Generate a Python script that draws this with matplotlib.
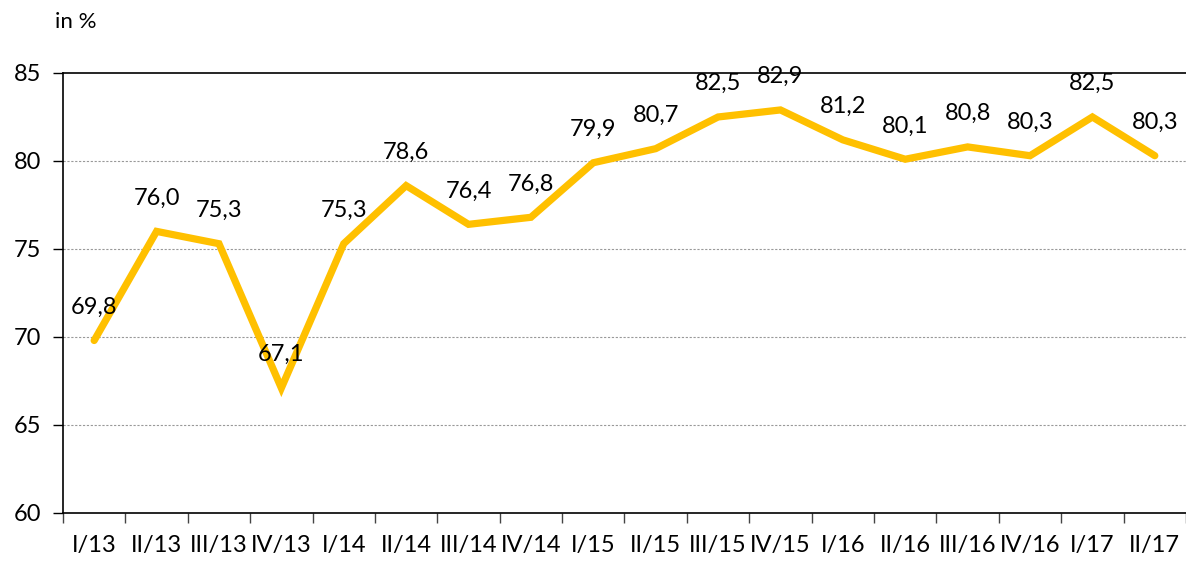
import matplotlib
matplotlib.use('Agg')
import matplotlib.pyplot as plt
import numpy as np

plt.rcParams['font.family'] = ['Lato', 'DejaVu Sans']

quarters = ['I/13', 'II/13', 'III/13', 'IV/13', 'I/14', 'II/14', 'III/14', 'IV/14',
            'I/15', 'II/15', 'III/15', 'IV/15', 'I/16', 'II/16', 'III/16', 'IV/16',
            'I/17', 'II/17']
values = [69.8, 76.0, 75.3, 67.1, 75.3, 78.6, 76.4, 76.8, 79.9, 80.7,
          82.5, 82.9, 81.2, 80.1, 80.8, 80.3, 82.5, 80.3]
yticks = [60, 65, 70, 75, 80, 85]

fig = plt.figure(figsize=(11.86, 5.61), dpi=100)
ax = fig.add_axes([0.0531, 0.0856, 0.9469, 0.7843])

x = np.arange(len(quarters))
ax.plot(x, values, color='#FFC000', lw=5.2, solid_capstyle='round', solid_joinstyle='miter', zorder=3)

for xi, v in zip(x, values):
    ax.annotate(('%.1f' % v).replace('.', ','), (xi, v), xytext=(0, 24),
                textcoords='offset points', ha='center', va='center', fontsize=17, zorder=4)

ax.set_ylim(60, 85)
ax.set_xlim(-0.5, 17.47)
ax.set_yticks(yticks)
ax.set_yticklabels([str(t) for t in yticks], fontsize=17)
for t in yticks[1:-1]:
    ax.axhline(t, color='#999999', lw=0.8, ls=(0, (2, 1.5)), zorder=1)

ax.set_xticks(x)
ax.set_xticklabels(quarters, fontsize=17)
ax.set_xticks(np.arange(len(quarters) + 1) - 0.5, minor=True)
ax.tick_params(axis='x', which='major', length=0, pad=16)
ax.tick_params(axis='x', which='minor', length=7, width=1, color='#444444', direction='out')
ax.tick_params(axis='y', length=7, width=1, pad=9)

for s in ['left', 'bottom', 'top']:
    ax.spines[s].set_color('black')
    ax.spines[s].set_linewidth(1.2)
ax.spines['right'].set_visible(False)

fig.text(0.046, 0.96, 'in %', fontsize=16, ha='left', va='center')

fig.savefig('out.png', dpi=100)
